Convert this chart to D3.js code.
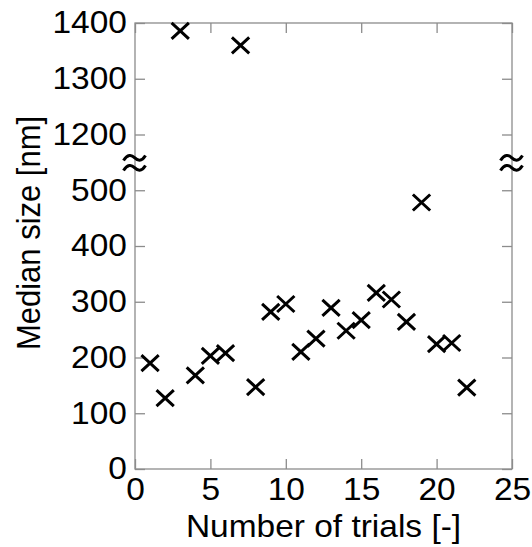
<!DOCTYPE html>
<html>
<head>
<meta charset="utf-8">
<script src="https://cdn.jsdelivr.net/npm/d3@7"></script>
<style>
  html, body { margin: 0; padding: 0; background: #fff; }
  svg { display: block; font-family: "Liberation Sans", Arial, Helvetica, sans-serif; }
</style>
</head>
<body>
<svg id="chart" width="532" height="547"></svg>
<script>
// Trial number and the median particle size measured in each trial
const trials = [1, 2, 3, 4, 5, 6, 7, 8, 9, 10, 11, 12, 13, 14, 15, 16, 17, 18, 19, 20, 21, 22];
const medianSize = [190, 127, 1386, 168, 203, 208, 1360, 147, 282, 296, 210, 234, 289, 248, 267, 316, 304, 264, 478, 224, 226, 146];

// Axis ticks; the y axis is broken between 500 and 1200
const xTicks = [0, 5, 10, 15, 20, 25];
const yTicks = [0, 100, 200, 300, 400, 500, 1200, 1300, 1400];
const yBreakLow = 500;
const yBreakHigh = 1200;

const xLabel = "Number of trials [-]";
const yLabel = "Median size [nm]";

const svg = d3.select("#chart");
const margin = { left: 135, right: 20, top: 23, bottom: 78 };
const W = 532, H = 547;
const x0 = margin.left, x1 = W - margin.right;
const y0 = H - margin.bottom, y1 = margin.top;

const x = d3.scaleLinear().domain([0, 25]).range([x0, x1]);

// Piecewise scale: the gap 500..1200 takes the room of a single 100 step
const slot = (y0 - y1) / 8;
const y = d3.scaleLinear()
  .domain([0, yBreakLow, yBreakHigh, 1400])
  .range([y0, y0 - 5 * slot, y0 - 6 * slot, y1]);

const axisColor = "#8c8c8c";
const fontSize = 31;
const stretch = 1.08;   // figure is drawn slightly wider than tall

// Frame
svg.append("rect")
  .attr("x", x0).attr("y", y1)
  .attr("width", x1 - x0).attr("height", y0 - y1)
  .attr("fill", "none").attr("stroke", axisColor).attr("stroke-width", 1.3);

function styleAxis(g, showText) {
  g.select(".domain").remove();
  g.selectAll(".tick line").attr("stroke", axisColor).attr("stroke-width", 1.3);
  const t = g.selectAll(".tick text");
  if (!showText) { t.remove(); return; }
  t.attr("fill", "#000")
    .style("font-size", fontSize + "px")
    .style("font-family", "'Liberation Sans', Arial, sans-serif")
    .attr("transform", `scale(${stretch},1)`);
}

// Bottom axis, ticks pointing inward
svg.append("g")
  .attr("transform", `translate(0,${y0})`)
  .call(d3.axisBottom(x).tickValues(xTicks).tickSizeInner(-10).tickSizeOuter(0).tickPadding(9))
  .call(g => styleAxis(g, true));

// Top axis (ticks only)
svg.append("g")
  .attr("transform", `translate(0,${y1})`)
  .call(d3.axisTop(x).tickValues(xTicks).tickSizeInner(-10).tickSizeOuter(0))
  .call(g => styleAxis(g, false));

// Left axis
svg.append("g")
  .attr("transform", `translate(${x0},0)`)
  .call(d3.axisLeft(y).tickValues(yTicks).tickFormat(d3.format("d")).tickSizeInner(-10).tickSizeOuter(0).tickPadding(7.5))
  .call(g => styleAxis(g, true));

// Right axis (ticks only)
svg.append("g")
  .attr("transform", `translate(${x1},0)`)
  .call(d3.axisRight(y).tickValues(yTicks).tickSizeInner(-10).tickSizeOuter(0))
  .call(g => styleAxis(g, false));

// Break marks on both vertical axes
const breakY = (y(yBreakLow) + y(yBreakHigh)) / 2 + 0.7;
const wave = "M-11,2.5 C-7,-4 -3,-3.5 0,-0.5 C3,2.5 7,4 11,-2.5";
[x0, x1].forEach(bx => {
  const g = svg.append("g").attr("transform", `translate(${bx - 0.5},${breakY})`);
  [-5, 5].forEach(dy => {
    g.append("path")
      .attr("d", wave)
      .attr("transform", `translate(0,${dy})`)
      .attr("fill", "none")
      .attr("stroke", "#000")
      .attr("stroke-width", 3);
  });
});

// Cross markers
const half = 8;
const pts = trials.map((t, i) => ({ t, v: medianSize[i] }));
const marks = svg.append("g").attr("stroke", "#000").attr("stroke-width", 3).attr("fill", "none");
marks.selectAll("path")
  .data(pts)
  .join("path")
  .attr("transform", d => `translate(${x(d.t)},${y(d.v)})`)
  .attr("d", `M${-half * stretch},${-half}L${half * stretch},${half}M${-half * stretch},${half}L${half * stretch},${-half}`);

// Axis titles
svg.append("text")
  .attr("transform", `translate(${(x0 + x1) / 2},537) scale(${stretch},1)`)
  .attr("text-anchor", "middle")
  .style("font-size", fontSize + "px")
  .text(xLabel);

svg.append("text")
  .attr("transform", `translate(40,233) scale(${stretch},1) rotate(-90)`)
  .attr("text-anchor", "middle")
  .style("font-size", fontSize + "px")
  .text(yLabel);
</script>
</body>
</html>
